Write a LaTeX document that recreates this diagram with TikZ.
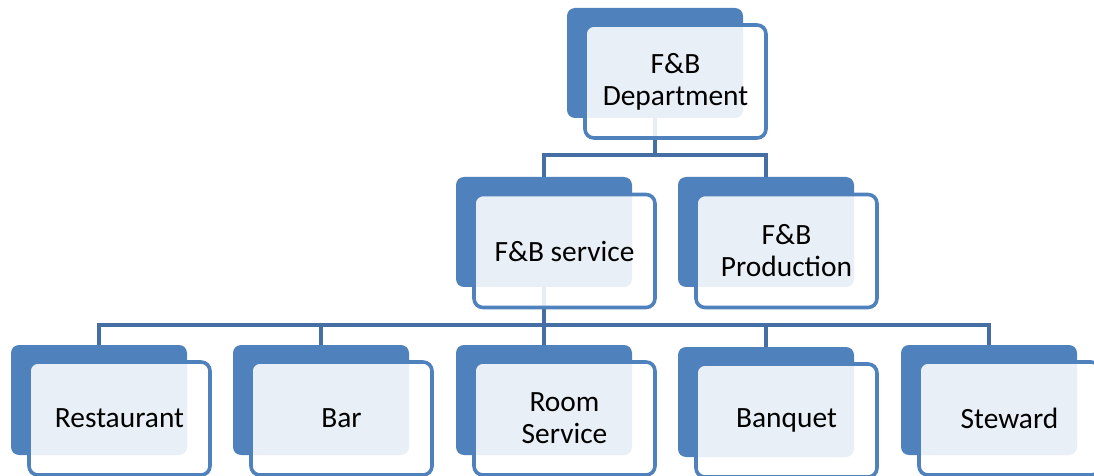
\documentclass[tikz,border=0pt]{standalone}
\usepackage{fontspec}
\setmainfont{Carlito}
\usepackage{tikz}
\definecolor{boxblue}{RGB}{79,129,189}
\definecolor{linkblue}{RGB}{68,110,164}
\tikzset{
  backbox/.style={fill=boxblue,rounded corners=4pt,minimum width=88pt,minimum height=55pt,inner sep=0pt},
  frontbox/.style={draw=boxblue,line width=1.8pt,fill=white,fill opacity=.88,text opacity=1,rounded corners=4.5pt,
    minimum width=90.5pt,minimum height=56.5pt,inner sep=0pt,align=center,
    font=\fontsize{14.7pt}{16pt}\selectfont},
  link/.style={draw=linkblue,line width=2pt}
}
\begin{document}
\begin{tikzpicture}[x=.5pt,y=-.5pt]
  \useasboundingbox (0,0) rectangle (1094,476);
  % junctions of the connectors
  \coordinate (j1) at (655,155);
  \coordinate (j2) at (544,325);
  % back plates
  \node[backbox] (dept-b) at (655,63) {};
  \node[backbox] (svc-b) at (544,232) {};
  \node[backbox] (prod-b) at (766,232) {};
  \node[backbox] (rest-b) at (99,400) {};
  \node[backbox] (bar-b) at (321,400) {};
  \node[backbox] (room-b) at (544,400) {};
  \node[backbox] (banq-b) at (766,402) {};
  \node[backbox] (stew-b) at (989,400) {};
  % connectors
  \draw[link] (dept-b.south) -- (j1);
  \draw[link] (svc-b.north) |- (j1) -| (prod-b.north);
  \draw[link] (svc-b.south) -- (j2);
  \draw[link] (rest-b.north) |- (j2) -| (stew-b.north);
  \foreach \n in {bar,room,banq}
    \draw[link] (j2 -| \n-b.north) -- (\n-b.north);
  % front boxes
  \node[frontbox] (dept) at (675.5,81.5) {F\&B\\Department};
  \node[frontbox] (svc) at (564.5,251) {F\&B service};
  \node[frontbox] (prod) at (786.5,251) {F\&B\\Production};
  \node[frontbox] (rest) at (119.5,418.5) {Restaurant};
  \node[frontbox] (bar) at (341.5,418.5) {Bar};
  \node[frontbox] (room) at (564.5,418.5) {Room\\Service};
  \node[frontbox] (banq) at (786.5,420.5) {Banquet};
  \node[frontbox] (stew) at (1009.5,418.5) {Steward};
\end{tikzpicture}
\end{document}
